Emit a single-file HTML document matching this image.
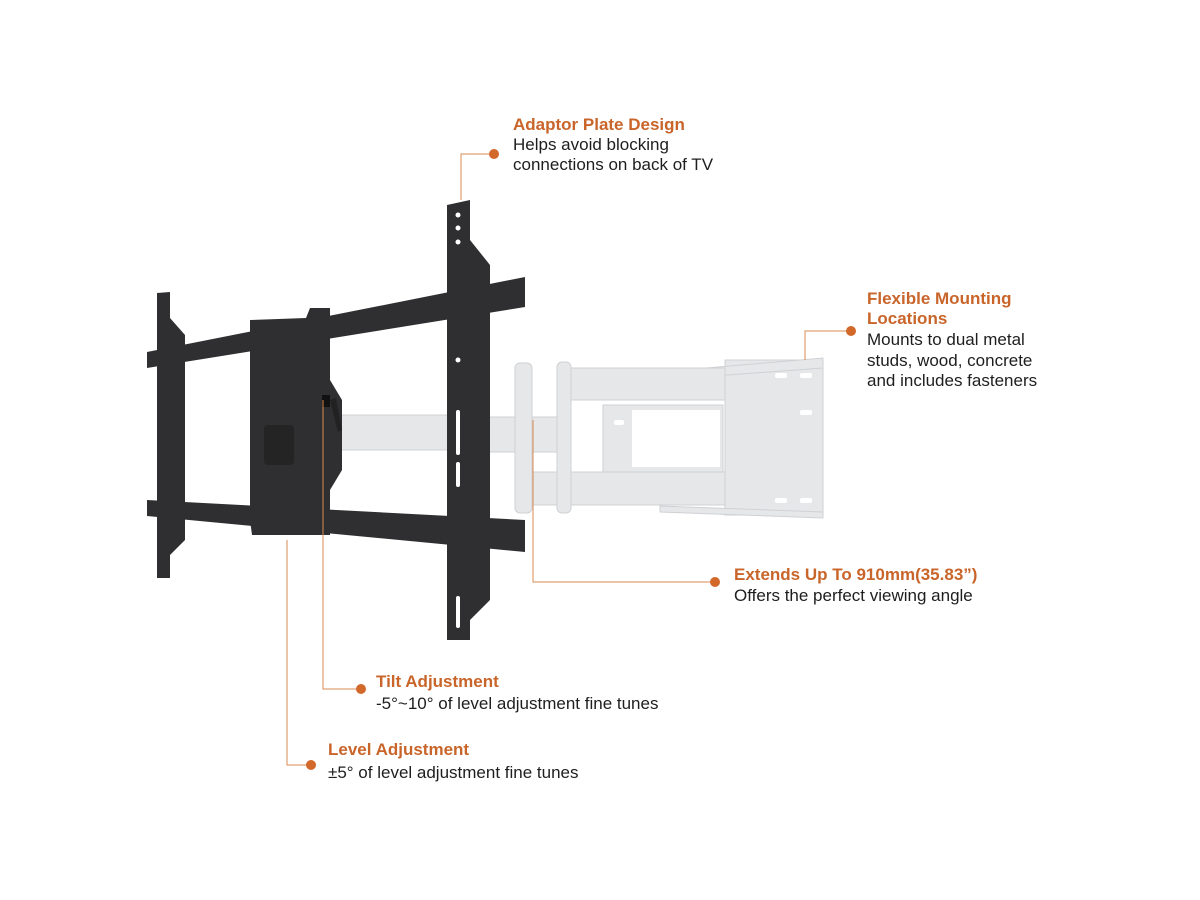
<!DOCTYPE html>
<html><head><meta charset="utf-8"><style>
html,body{margin:0;padding:0;background:#fff;}
svg{display:block;}
text{font-family:"Liberation Sans",sans-serif;font-size:17px;}
.t{fill:#c9652a;font-weight:bold;}
.b{fill:#1e1e1e;}
</style></head><body>
<svg width="1200" height="900" viewBox="0 0 1200 900" xmlns="http://www.w3.org/2000/svg">
<rect width="1200" height="900" fill="#fff"/>
<g fill="#e6e7e9" stroke="#cfd1d4" stroke-width="1">
  <rect x="603" y="405" width="120" height="70"/>
  <rect x="725" y="360" width="98" height="155"/>
  <polygon points="660,372 823,358 823,368 660,380"/>
  <polygon points="660,506 823,512 823,518 660,512"/>
  <rect x="560" y="368" width="165" height="32"/>
  <rect x="530" y="472" width="195" height="33"/>
  <rect x="330" y="415" width="120" height="35"/>
  <rect x="470" y="417" width="97" height="35"/>
  <rect x="515" y="363" width="17" height="150" rx="5"/>
  <rect x="557" y="362" width="14" height="151" rx="5"/>
</g>
<rect x="632" y="410" width="88" height="57" fill="#fff"/>
<g fill="#fff"><rect x="775" y="373" width="12" height="5" rx="2"/><rect x="800" y="373" width="12" height="5" rx="2"/><rect x="800" y="410" width="12" height="5" rx="2"/><rect x="775" y="498" width="12" height="5" rx="2"/><rect x="800" y="498" width="12" height="5" rx="2"/><rect x="614" y="420" width="10" height="5" rx="2"/></g>
<rect x="468" y="425" width="12" height="22" fill="#8a8c8f"/>
<g fill="#2f2f31">
  <polygon points="147,352 525,277 525,307 147,368"/>
  <polygon points="147,500 525,520 525,552 147,516"/>
  <polygon points="157,293 170,292 170,318 185,335 185,540 170,555 170,578 157,578"/>
  <polygon points="447,205 470,200 470,240 490,265 490,600 470,620 470,640 447,640"/>
  <polygon points="250,320 306,318 310,308 330,308 330,380 342,400 342,470 330,490 330,535 252,535 250,520"/>
</g>
<rect x="264" y="425" width="30" height="40" rx="4" fill="#242424"/>
<rect x="322" y="395" width="8" height="12" fill="#111"/>
<polygon points="330,400 336,398 342,430 338,432" fill="#222"/>
<g fill="#fff"><circle cx="458" cy="215" r="2.5"/><circle cx="458" cy="228" r="2.5"/><circle cx="458" cy="242" r="2.5"/><circle cx="458" cy="360" r="2.5"/><rect x="456" y="410" width="4" height="45" rx="2"/><rect x="456" y="462" width="4" height="25" rx="2"/><rect x="456" y="596" width="4" height="32" rx="2"/></g>
<g fill="none" stroke="#d8894f" stroke-width="1">
  <polyline points="494,154 461,154 461,200"/>
  <polyline points="851,331 805,331 805,360"/>
  <polyline points="715,582 533,582 533,420"/>
  <polyline points="361,689 323,689 323,400"/>
  <polyline points="311,765 287,765 287,540"/>
</g>
<g fill="#d2682a"><circle cx="494" cy="154" r="5"/><circle cx="851" cy="331" r="5"/><circle cx="715" cy="582" r="5"/><circle cx="361" cy="689" r="5"/><circle cx="311" cy="765" r="5"/></g>
<text x="513" y="130" class="t">Adaptor Plate Design</text>
<text x="513" y="150" class="b">Helps avoid blocking</text>
<text x="513" y="170" class="b">connections on back of TV</text>
<text x="867" y="304" class="t">Flexible Mounting</text>
<text x="867" y="324" class="t">Locations</text>
<text x="867" y="345" class="b">Mounts to dual metal</text>
<text x="867" y="366" class="b">studs, wood, concrete</text>
<text x="867" y="386" class="b">and includes fasteners</text>
<text x="734" y="580" class="t">Extends Up To 910mm(35.83”)</text>
<text x="734" y="601" class="b">Offers the perfect viewing angle</text>
<text x="376" y="687" class="t">Tilt Adjustment</text>
<text x="376" y="709" class="b">-5°~10° of level adjustment fine tunes</text>
<text x="328" y="755" class="t">Level Adjustment</text>
<text x="328" y="778" class="b">±5° of level adjustment fine tunes</text>
</svg>
</body></html>
